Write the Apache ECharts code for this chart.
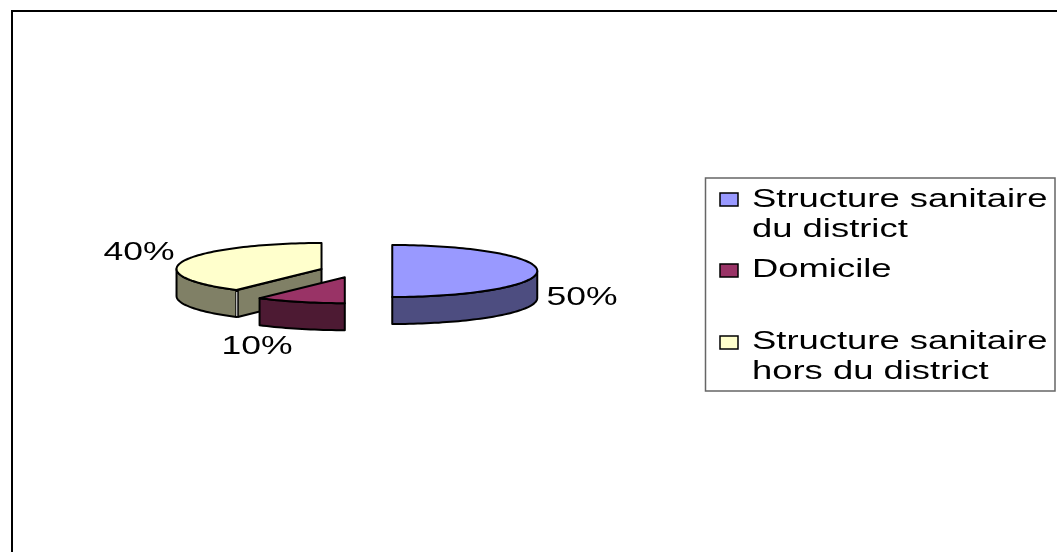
<!DOCTYPE html>
<html>
<head>
<meta charset="utf-8">
<style>html,body{margin:0;padding:0;background:#fff}#chart{width:1057px;height:552px}</style>
<script src="https://cdn.jsdelivr.net/npm/echarts@6/dist/echarts.min.js"></script>
</head>
<body>
<div id="chart"></div>
<script>
// Lieu de prise en charge, en pourcentage
const categories = ['Structure sanitaire\ndu district', 'Domicile', 'Structure sanitaire\nhors du district'];
const values = [50, 10, 40];
const topColors = ['#9999FF', '#993366', '#FFFFCC'];
const wallColors = ['#4D4D80', '#4D1A33', '#808066'];

// Tilted, exploded pie geometry
const pie = { cx: 356, cy: 271, rx: 145, ry: 26, depth: 27, explode: 0.25 };
const labelAnchors = [[582, 298], [257, 347], [139, 253]];
const legendRows = [[752, 193, 200], [752, 264, 270], [752, 336, 342]];
const swatchLeft = 720;
const fontFamily = '"Liberation Sans", Arial, sans-serif';
const total = values.reduce((a, b) => a + b, 0);

// Angles are clockwise from 12 o'clock, in radians.
function pt(c, a, dy) {
  return [c[0] + pie.rx * Math.sin(a), c[1] - pie.ry * Math.cos(a) + (dy || 0)];
}
function arc(c, a0, a1, dy) {
  const n = Math.max(2, Math.ceil(Math.abs(a1 - a0) / 0.03));
  const out = [];
  for (let i = 0; i <= n; i++) out.push(pt(c, a0 + (a1 - a0) * i / n, dy));
  return out;
}

function renderSlice(params, api) {
  const i = params.dataIndex;
  const value = api.value(0);
  const before = values.slice(0, i).reduce((a, b) => a + b, 0);
  const a0 = before / total * Math.PI * 2;
  const a1 = (before + value) / total * Math.PI * 2;
  const mid = (a0 + a1) / 2;
  const c = [pie.cx + pie.explode * pie.rx * Math.sin(mid), pie.cy - pie.explode * pie.ry * Math.cos(mid)];
  const stroke = { stroke: '#000', lineWidth: 2, lineJoin: 'round' };
  const base = i === 1 ? 20 : 10;
  const children = [];

  // Outer wall: only the part of the rim facing the viewer (between 90° and 270°)
  const w0 = Math.max(a0, Math.PI / 2), w1 = Math.min(a1, Math.PI * 1.5);
  if (w1 > w0) {
    children.push({
      type: 'polygon', z2: base,
      shape: { points: arc(c, w0, w1, 0).concat(arc(c, w1, w0, pie.depth)) },
      style: Object.assign({ fill: wallColors[i] }, stroke)
    });
  }
  // Cut face turned toward the viewer, separated from the rim by a thin light seam
  if (Math.sin(a0) < -0.01 && Math.cos(a0) < 0) {
    const p = pt(c, a0);
    children.push({
      type: 'polygon', z2: base,
      shape: { points: [c, [p[0] + 1.5, p[1]], [p[0] + 1.5, p[1] + pie.depth], [c[0], c[1] + pie.depth]] },
      style: Object.assign({ fill: wallColors[i] }, stroke)
    });
    children.push({
      type: 'line', z2: base + 1,
      shape: { x1: p[0] + 0.5, y1: p[1] + 2, x2: p[0] + 0.5, y2: p[1] + pie.depth - 1 },
      style: { stroke: '#fff', lineWidth: 1 }
    });
  }
  // Top face
  children.push({
    type: 'polygon', z2: base + 2,
    shape: { points: [c].concat(arc(c, a0, a1, 0)) },
    style: Object.assign({ fill: topColors[i] }, stroke)
  });
  // Percentage label
  const lab = labelAnchors[i];
  children.push({
    type: 'text', x: lab[0], y: lab[1], scaleX: 1.42, z2: 40,
    style: { text: value + '%', fill: '#000', fontFamily, fontSize: 25, align: 'center', verticalAlign: 'middle' }
  });
  // Legend entry
  const row = legendRows[i];
  children.push({
    type: 'rect', z2: 40,
    shape: { x: swatchLeft, y: row[1], width: 18, height: 13 },
    style: { fill: topColors[i], stroke: '#000', lineWidth: 1.5 }
  });
  children.push({
    type: 'text', x: row[0], y: row[2] - 15, scaleX: 1.4, z2: 40,
    style: { text: categories[i], fill: '#000', fontFamily, fontSize: 26, lineHeight: 30, align: 'left', verticalAlign: 'top' }
  });
  return { type: 'group', children };
}

const chart = echarts.init(document.getElementById('chart'), null, { renderer: 'canvas' });
chart.setOption({
  animation: false,
  backgroundColor: '#fff',
  graphic: [
    { type: 'line', z: 0, shape: { x1: 12, y1: 11, x2: 1057, y2: 11 }, style: { stroke: '#000', lineWidth: 2 } },
    { type: 'line', z: 0, shape: { x1: 12, y1: 10, x2: 12, y2: 552 }, style: { stroke: '#000', lineWidth: 2 } },
    { type: 'rect', z: 0, shape: { x: 705.5, y: 178, width: 349.5, height: 213 }, style: { fill: '#fff', stroke: '#666', lineWidth: 1.5 } }
  ],
  series: [{
    type: 'custom',
    coordinateSystem: 'none',
    z: 5,
    renderItem: renderSlice,
    data: values.map(v => [v])
  }]
});
</script>
</body>
</html>
